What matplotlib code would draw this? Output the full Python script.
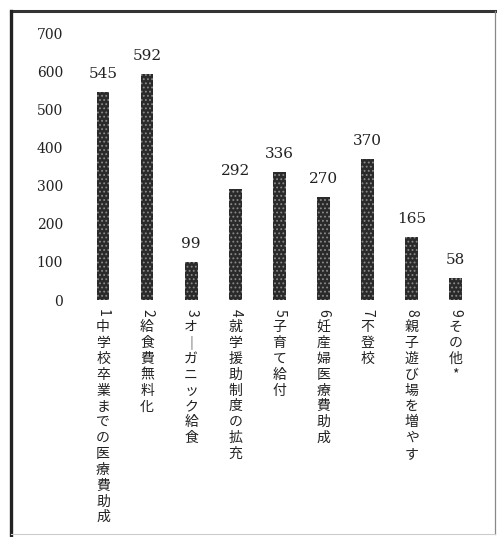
import matplotlib
matplotlib.use("Agg")
import matplotlib.pyplot as plt
from matplotlib.lines import Line2D

# ---- data ----
numbers = ["1", "2", "3", "4", "5", "6", "7", "8", "9"]
categories = ["中学校卒業までの医療費助成", "給食費無料化", "オーガニック給食",
              "就学援助制度の拡充", "子育て給付", "妊産婦医療費助成", "不登校",
              "親子遊び場を増やす", "その他*"]
values = [545, 592, 99, 292, 336, 270, 370, 165, 58]
yticks = [0, 100, 200, 300, 400, 500, 600, 700]

W, H = 500, 537
fig = plt.figure(figsize=(W / 100, H / 100), dpi=100)
fig.patch.set_facecolor("white")

# axes: x data 0..8 -> bar centres; y 0 at px 300, 700 at px 33
left_px, right_px = 70, 490
top_px, bot_px = 33, 300
ax = fig.add_axes([left_px / W, (H - bot_px) / H, (right_px - left_px) / W,
                   (bot_px - top_px) / H])
ax.set_facecolor("none")
x = list(range(len(values)))
plt.rcParams["hatch.linewidth"] = 0.8
ax.bar(x, values, width=0.29, color="#2a2a2a", edgecolor="#8a8a8a",
       hatch="....", linewidth=0)
ax.set_xlim(-0.748, 8.776)
ax.set_ylim(0, 700)
ax.set_yticks(yticks)
ax.set_yticklabels([str(t) for t in yticks], family="DejaVu Serif",
                   fontsize=10, color="#222222")
ax.tick_params(axis="y", length=0, pad=5)
ax.set_xticks([])
for s in ax.spines.values():
    s.set_visible(False)

# value labels
for xi, v in zip(x, values):
    ax.annotate(str(v), xy=(xi, v), xytext=(0, 8), textcoords="offset points",
                ha="center", va="bottom", family="DejaVu Serif", fontsize=11,
                color="#222222")

# vertical category labels
step_pt = 11.4
for xi, num, cat in zip(x, numbers, categories):
    ax.annotate(num, xy=(xi, 0), xytext=(0, -9.4), textcoords="offset points",
                ha="center", va="center", rotation=-90,
                family=["Noto Sans CJK JP", "DejaVu Sans"], fontsize=10,
                color="#222222", annotation_clip=False)
    for k, ch in enumerate(cat):
        if ch == "ー":
            ch = "｜"
        ax.annotate(ch, xy=(xi, 0), xytext=(0, -19.6 - k * step_pt),
                    textcoords="offset points", ha="center", va="center",
                    family=["Noto Sans CJK JP", "DejaVu Sans"], fontsize=10,
                    color="#222222", annotation_clip=False)

# frame
def px(xp, yp):
    return xp / W, 1 - yp / H

for (x0, y0, x1, y1, lw, c) in [
    (11, 11, 495, 11, 2.2, "#333333"),   # top
    (11, 11, 11, 537, 2.4, "#222222"),   # left
    (495, 11, 495, 534, 0.9, "#888888"), # right
    (11, 534, 495, 534, 0.8, "#cccccc"), # bottom
]:
    a, b = px(x0, y0)
    c2, d = px(x1, y1)
    fig.add_artist(Line2D([a, c2], [b, d], lw=lw, color=c,
                          transform=fig.transFigure))

fig.savefig("out.png", dpi=100)
